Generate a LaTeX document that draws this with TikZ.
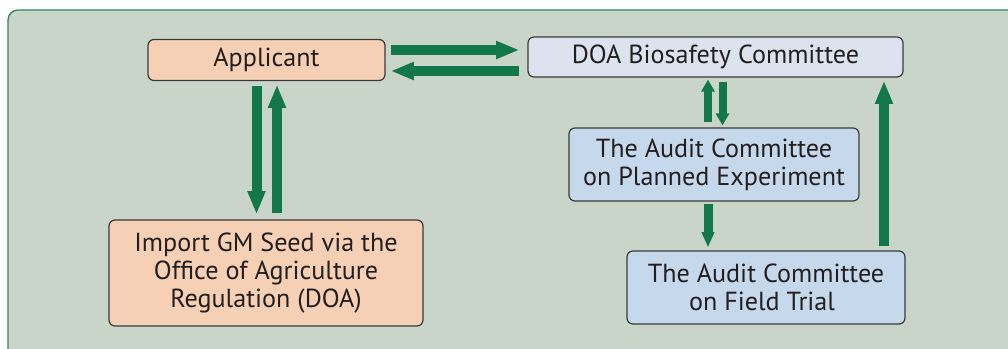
\documentclass[tikz,border=0pt]{standalone}
\usepackage{fontspec}
\setmainfont{PT Sans}
\usetikzlibrary{arrows.meta,calc}
\definecolor{panelbg}{HTML}{C9D5C9}
\definecolor{panelline}{HTML}{2E8B57}
\definecolor{arrgreen}{HTML}{12784A}
\definecolor{peach}{HTML}{F5D0B4}
\definecolor{paleblue}{HTML}{DDE3EE}
\definecolor{lightblue}{HTML}{C6D9EC}
\definecolor{txt}{HTML}{231F20}
\definecolor{boxline}{HTML}{3A3A3A}
\tikzset{
  box/.style={draw=boxline, line width=0.9pt, rounded corners=4.5pt, align=center,
    text=txt, font=\fontsize{19.6pt}{21pt}\selectfont, inner sep=0pt},
  bigarr/.style={draw=arrgreen, line width=7.5pt, -{Triangle[length=17.5pt,width=12.5pt]}},
  midarr/.style={draw=arrgreen, line width=6.75pt, -{Triangle[length=11.5pt,width=9pt]}},
  smallarr/.style={draw=arrgreen, line width=6pt, -{Triangle[length=9pt,width=9.75pt]}}
}
\begin{document}
\begin{tikzpicture}[x=0.75pt,y=-0.75pt]
\useasboundingbox (0,0) rectangle (1008,349);
\clip (0,0) rectangle (1008,349);
\fill[white] (0,0) rectangle (1008,349);
\draw[fill=panelbg, draw=panelline, line width=1pt, rounded corners=7.5pt] (8,10) rectangle (1040,380);

\node[box, fill=peach, minimum width=237*0.75pt, minimum height=41*0.75pt] (app) at (266.5,60) {Applicant};
\node[box, fill=paleblue, minimum width=375*0.75pt, minimum height=40*0.75pt] (doa) at (715.5,57) {DOA Biosafety Committee};
\node[box, fill=peach, minimum width=314*0.75pt, minimum height=106*0.75pt] (imp) at (266,273) {Import GM Seed via the\\Office of Agriculture\\Regulation (DOA)};
\node[box, fill=lightblue, minimum width=290*0.75pt, minimum height=73*0.75pt] (plan) at (714,164.5) {The Audit Committee\\on Planned Experiment};
\node[box, fill=lightblue, minimum width=278*0.75pt, minimum height=73*0.75pt] (field) at (766,287.5) {The Audit Committee\\on Field Trial\hspace*{6pt}};

\draw[bigarr] ($(app.east)+(5,-10)$) -- ($(doa.west)+(-8,-7)$);
\draw[bigarr] ($(doa.west)+(-8,14)$) -- ($(app.east)+(5,11)$);
\draw[bigarr] ($(app.south)+(-10,4.5)$) -- ($(imp.north)+(-9.5,-5)$);
\draw[bigarr] ($(imp.north)+(11,-6)$) -- ($(app.south)+(10.5,3.5)$);
\draw[smallarr] ($(plan.north)+(-6,-5)$) -- ($(doa.south)+(-7.5,2)$);
\draw[smallarr] ($(doa.south)+(7,4)$) -- ($(plan.north)+(8.5,-2)$);
\draw[midarr] ($(plan.south)+(-6,2)$) -- ($(field.north)+(-58,-3)$);
\draw[bigarr] ($(field.north)+(118,-4)$) -- ($(doa.south)+(168.5,3)$);
\end{tikzpicture}
\end{document}
